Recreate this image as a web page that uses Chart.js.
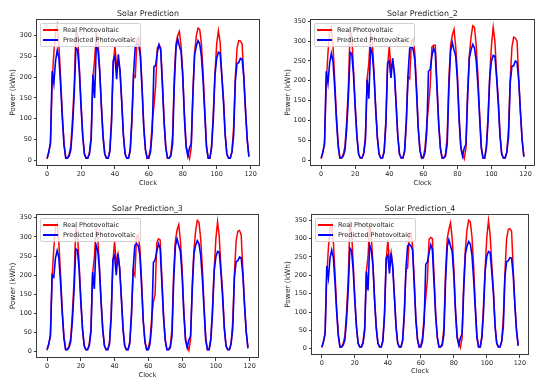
<!DOCTYPE html>
<html lang="en">
<head>
  <meta charset="UTF-8" />
  <title>Solar Prediction</title>
  <script src="https://cdn.jsdelivr.net/npm/chart.js"></script>
  <style>
    html, body { margin: 0; padding: 0; background: #fff; }
    body { width: 550px; height: 387px; position: relative; overflow: hidden; font-family: "DejaVu Sans", sans-serif; }
    .panel { position: absolute; }
    .legend {
      position: absolute;
      background: rgba(255, 255, 255, 0.8);
      border: 1px solid #d2d2d2;
      border-radius: 2px;
      padding: 1px 4px 1px 2px;
      font-size: 6.5px;
      color: #222;
      line-height: 10px;
    }
    .legend .row { display: flex; align-items: center; white-space: nowrap; }
    .legend .swatch { display: inline-block; width: 15px; height: 1.6px; margin-right: 5px; }
  </style>
</head>
<body>
  <div class="panel" id="p1" style="left:0;top:0;width:275px;height:195px;"><canvas id="c1"></canvas></div>
  <div class="panel" id="p2" style="left:275px;top:0;width:275px;height:195px;"><canvas id="c2"></canvas></div>
  <div class="panel" id="p3" style="left:0;top:195px;width:275px;height:192px;"><canvas id="c3"></canvas></div>
  <div class="panel" id="p4" style="left:275px;top:195px;width:275px;height:192px;"><canvas id="c4"></canvas></div>

  <script>
    // hourly index, 10 days x 12 readings
    const clock = Array.from({ length: 120 }, (_, i) => i);
    const xTicks = [0, 20, 40, 60, 80, 100, 120];
    const yTicks300 = [0, 50, 100, 150, 200, 250, 300];
    const yTicks350 = [0, 50, 100, 150, 200, 250, 300, 350];

    const realLabel = "Real Photovoltaic";
    const predLabel = "Predicted Photovoltaic";

    const real1 = [
      3, 18, 45, 190, 260, 310, 325, 275, 195, 110, 40, 5,
      5, 15, 35, 100, 180, 310, 300, 225, 140, 60, 15, 5,
      5, 20, 60, 200, 240, 305, 290, 220, 135, 60, 15, 5,
      5, 25, 100, 230, 275, 225, 240, 215, 145, 60, 15, 5,
      5, 20, 90, 205, 200, 290, 295, 260, 180, 80, 25, 5,
      10, 30, 90, 130, 180, 270, 278, 270, 190, 95, 30, 5,
      5, 15, 60, 200, 280, 300, 310, 275, 210, 110, 35, 15,
      3, 30, 170, 260, 300, 318, 315, 280, 210, 120, 35, 5,
      5, 35, 110, 210, 280, 312, 285, 205, 150, 65, 15, 5,
      5, 20, 80, 200, 270, 288, 287, 280, 200, 120, 50, 10
    ];
    const pred1 = [
      5, 20, 40, 215, 185, 240, 265, 245, 180, 100, 35, 5,
      5, 10, 25, 80, 160, 270, 265, 215, 130, 60, 15, 5,
      5, 15, 50, 205, 150, 275, 265, 215, 130, 55, 15, 5,
      5, 20, 90, 240, 250, 195, 255, 215, 140, 60, 15, 5,
      5, 25, 100, 210, 275, 280, 278, 250, 170, 80, 25, 5,
      5, 20, 70, 225, 228, 260, 278, 265, 180, 90, 30, 5,
      5, 10, 40, 180, 270, 292, 275, 262, 200, 100, 30, 10,
      30, 40, 160, 255, 275, 288, 280, 250, 190, 110, 30, 5,
      5, 30, 100, 205, 245, 260, 258, 205, 140, 60, 15, 5,
      5, 20, 60, 190, 233, 235, 245, 243, 200, 120, 50, 8
    ];

    const real2 = [
      3, 18, 45, 195, 270, 325, 335, 285, 200, 110, 40, 5,
      5, 15, 35, 100, 185, 326, 312, 230, 140, 60, 15, 5,
      5, 20, 60, 205, 245, 320, 300, 225, 135, 60, 15, 5,
      5, 25, 100, 235, 288, 230, 245, 220, 145, 60, 15, 5,
      5, 20, 90, 210, 205, 300, 306, 270, 185, 80, 25, 5,
      10, 30, 90, 135, 185, 285, 290, 290, 195, 95, 30, 5,
      5, 15, 60, 205, 290, 315, 330, 285, 215, 110, 35, 15,
      3, 30, 175, 265, 310, 339, 335, 290, 215, 120, 35, 5,
      5, 35, 115, 215, 290, 335, 300, 215, 155, 65, 15, 5,
      5, 20, 80, 205, 285, 310, 308, 300, 205, 120, 50, 10
    ];
    const pred2 = [
      5, 20, 40, 224, 194, 245, 269, 248, 180, 100, 35, 5,
      5, 10, 25, 80, 160, 272, 268, 215, 130, 60, 15, 5,
      5, 15, 50, 203, 155, 283, 268, 218, 130, 55, 15, 5,
      5, 20, 90, 245, 250, 207, 257, 218, 140, 60, 15, 5,
      5, 25, 100, 215, 282, 288, 280, 252, 170, 80, 25, 5,
      5, 20, 70, 224, 228, 262, 283, 270, 180, 90, 30, 5,
      5, 10, 40, 185, 275, 296, 278, 262, 200, 100, 30, 10,
      30, 40, 160, 258, 278, 292, 283, 252, 190, 110, 30, 5,
      5, 30, 100, 210, 250, 264, 262, 208, 140, 60, 15, 5,
      5, 20, 60, 195, 237, 238, 250, 247, 200, 120, 50, 8
    ];

    const real3 = [
      3, 18, 45, 195, 270, 325, 335, 285, 200, 110, 40, 5,
      5, 15, 35, 100, 185, 325, 312, 230, 140, 60, 15, 5,
      5, 20, 60, 205, 245, 321, 300, 225, 135, 60, 15, 5,
      5, 25, 100, 235, 288, 230, 255, 220, 145, 60, 15, 5,
      5, 20, 90, 210, 199, 300, 305, 270, 185, 80, 25, 5,
      10, 30, 90, 130, 150, 285, 295, 292, 195, 95, 30, 5,
      5, 15, 60, 205, 290, 318, 332, 290, 215, 110, 35, 15,
      3, 30, 175, 265, 315, 343, 338, 295, 220, 120, 35, 5,
      5, 35, 115, 215, 295, 340, 300, 220, 155, 65, 15, 5,
      5, 20, 80, 205, 290, 315, 317, 305, 210, 120, 50, 10
    ];
    const pred3 = [
      5, 20, 40, 200, 195, 245, 264, 245, 180, 100, 35, 5,
      5, 10, 25, 80, 160, 269, 265, 215, 130, 60, 15, 5,
      5, 15, 50, 208, 164, 279, 265, 218, 130, 55, 15, 5,
      5, 20, 90, 240, 251, 200, 256, 218, 140, 60, 15, 5,
      5, 25, 100, 215, 278, 282, 278, 252, 170, 80, 25, 5,
      5, 20, 70, 233, 240, 262, 282, 270, 180, 90, 30, 5,
      5, 10, 40, 185, 275, 295, 278, 262, 200, 100, 30, 10,
      30, 40, 160, 255, 278, 290, 282, 252, 190, 110, 30, 5,
      5, 30, 100, 210, 248, 262, 260, 208, 140, 60, 15, 5,
      5, 20, 60, 195, 235, 238, 247, 245, 200, 120, 50, 8
    ];

    const real4 = [
      3, 18, 45, 200, 275, 330, 340, 290, 205, 110, 40, 5,
      5, 15, 35, 100, 190, 340, 320, 235, 140, 60, 15, 5,
      5, 20, 60, 210, 250, 338, 305, 230, 135, 60, 15, 5,
      5, 25, 100, 240, 297, 235, 262, 225, 145, 60, 15, 5,
      5, 20, 90, 215, 220, 310, 315, 280, 190, 80, 25, 5,
      10, 30, 90, 140, 190, 298, 303, 300, 200, 95, 30, 5,
      5, 15, 60, 210, 300, 325, 343, 300, 220, 110, 35, 15,
      3, 30, 180, 270, 325, 350, 345, 305, 225, 120, 35, 5,
      5, 35, 120, 220, 305, 349, 310, 230, 160, 65, 15, 5,
      5, 20, 85, 210, 300, 325, 327, 320, 215, 120, 50, 10
    ];
    const pred4 = [
      5, 20, 40, 225, 193, 248, 269, 248, 180, 100, 35, 5,
      5, 10, 25, 80, 160, 274, 268, 215, 130, 60, 15, 5,
      5, 15, 50, 210, 159, 283, 268, 225, 130, 55, 15, 5,
      5, 20, 90, 246, 255, 205, 260, 220, 140, 60, 15, 5,
      5, 25, 100, 220, 280, 285, 280, 270, 175, 80, 25, 5,
      5, 20, 70, 230, 236, 262, 283, 270, 180, 90, 30, 5,
      5, 10, 40, 185, 278, 297, 280, 265, 200, 100, 30, 10,
      30, 40, 160, 258, 280, 292, 285, 255, 190, 110, 30, 5,
      5, 30, 100, 212, 252, 265, 262, 210, 150, 60, 15, 5,
      5, 20, 60, 198, 237, 240, 248, 247, 200, 120, 50, 8
    ];

    const axisColor = "#3a3a3a";
    const textColor = "#262626";
    const fontFamily = "'DejaVu Sans', sans-serif";

    // matplotlib style box around the plot area
    const framePlugin = {
      id: "frame",
      afterDatasetsDraw(chart) {
        const { ctx, chartArea: a } = chart;
        ctx.save();
        ctx.strokeStyle = axisColor;
        ctx.lineWidth = 1;
        const l = Math.round(a.left) - 0.5, t = Math.round(a.top) + 0.5;
        const r = Math.round(a.right) + 0.5, b = Math.round(a.bottom) - 0.5;
        ctx.strokeRect(l, t, r - l, b - t);
        ctx.restore();
      },
    };

    function toPoints(values) {
      return clock.map((c, i) => ({ x: c, y: values[i] }));
    }

    function makeChart(cfg) {
      const ctx = document.getElementById(cfg.canvas).getContext("2d");
      const chart = new Chart(ctx, {
        type: "line",
        data: {
          datasets: [
            {
              label: predLabel,
              data: toPoints(cfg.pred),
              borderColor: "#0000ff",
              borderWidth: 1.6,
              pointRadius: 0,
              tension: 0,
            },
            {
              label: realLabel,
              data: toPoints(cfg.real),
              borderColor: "#ff0000",
              borderWidth: 1.5,
              pointRadius: 0,
              tension: 0,
            },
          ],
        },
        options: {
          responsive: true,
          maintainAspectRatio: false,
          animation: false,
          events: [],
          layout: { padding: { left: 0, top: 0, right: cfg.padRight, bottom: cfg.padBottom } },
          scales: {
            x: {
              type: "linear",
              min: -5.95,
              max: 124.95,
              afterFit(scale) { scale.height = 26; },
              afterBuildTicks(scale) { scale.ticks = xTicks.map((v) => ({ value: v })); },
              border: { display: false },
              grid: { display: true, drawOnChartArea: false, drawTicks: true, tickLength: 3, color: axisColor },
              ticks: { color: textColor, font: { family: fontFamily, size: 6.5 }, padding: 1, maxRotation: 0 },
              title: {
                display: true,
                text: "Clock",
                color: textColor,
                font: { family: fontFamily, size: 6.6 },
                padding: { top: 0, bottom: cfg.clockPad },
              },
            },
            y: {
              type: "linear",
              min: cfg.yMin,
              max: cfg.yMax,
              afterFit(scale) { scale.width = cfg.yWidth; },
              afterBuildTicks(scale) { scale.ticks = cfg.yTicks.map((v) => ({ value: v })); },
              border: { display: false },
              grid: { display: true, drawOnChartArea: false, drawTicks: true, tickLength: 3, color: axisColor },
              ticks: { color: textColor, font: { family: fontFamily, size: 6.5 }, padding: 2 },
              title: {
                display: true,
                text: "Power (kWh)",
                color: textColor,
                font: { family: fontFamily, size: 7.4 },
                padding: { top: 8.3, bottom: 0 },
              },
            },
          },
          plugins: {
            legend: { display: false },
            tooltip: { enabled: false },
            title: {
              display: true,
              fullSize: false,
              text: cfg.title,
              color: textColor,
              font: { family: fontFamily, size: 7.9, weight: "normal" },
              padding: { top: 9, bottom: 0.5 },
            },
          },
        },
        plugins: [framePlugin],
      });

      // legend box inside the plot area, upper left
      const a = chart.chartArea;
      const box = document.createElement("div");
      box.className = "legend";
      box.style.left = Math.round(a.left + 3) + "px";
      box.style.top = Math.round(a.top + 4) + "px";
      [[realLabel, "#ff0000"], [predLabel, "#0000ff"]].forEach(([text, color]) => {
        const row = document.createElement("div");
        row.className = "row";
        const sw = document.createElement("span");
        sw.className = "swatch";
        sw.style.background = color;
        const label = document.createElement("span");
        label.textContent = text;
        row.appendChild(sw);
        row.appendChild(label);
        box.appendChild(row);
      });
      document.getElementById(cfg.panel).appendChild(box);
      return chart;
    }

    makeChart({ panel: "p1", canvas: "c1", title: "Solar Prediction", real: real1, pred: pred1,
      yMin: -14, yMax: 340, yTicks: yTicks300, yWidth: 37, padRight: 16, padBottom: 3, clockPad: 5.1 });
    makeChart({ panel: "p2", canvas: "c2", title: "Solar Prediction_2", real: real2, pred: pred2,
      yMin: -15, yMax: 356, yTicks: yTicks350, yWidth: 36, padRight: 16, padBottom: 3, clockPad: 5.1 });
    makeChart({ panel: "p3", canvas: "c3", title: "Solar Prediction_3", real: real3, pred: pred3,
      yMin: -17, yMax: 360, yTicks: yTicks350, yWidth: 37, padRight: 17, padBottom: 3, clockPad: 5.1 });
    makeChart({ panel: "p4", canvas: "c4", title: "Solar Prediction_4", real: real4, pred: pred4,
      yMin: -17, yMax: 367, yTicks: yTicks350, yWidth: 37, padRight: 22, padBottom: 6, clockPad: 6.1 });
  </script>
</body>
</html>
